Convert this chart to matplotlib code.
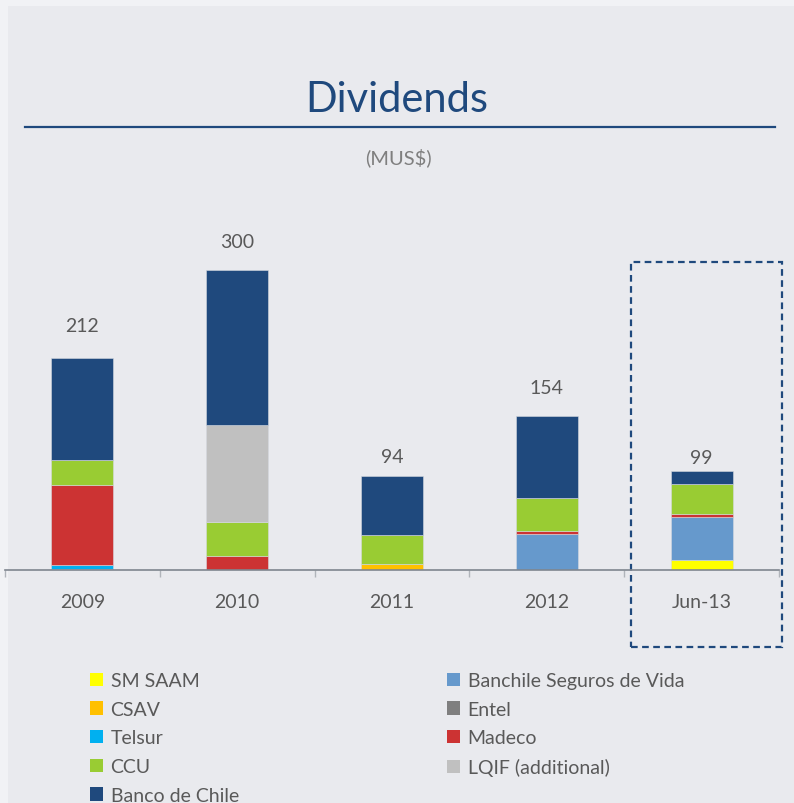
import matplotlib.pyplot as plt
from matplotlib.patches import Rectangle, Patch
from matplotlib.lines import Line2D
import numpy as np

plt.rcParams['font.family'] = ['Lato', 'DejaVu Sans']

# datos (MUS$)
years = ['2009', '2010', '2011', '2012', 'Jun-13']
totals = [212, 300, 94, 154, 99]

series = ['SM SAAM', 'Banchile Seguros de Vida', 'CSAV', 'Entel', 'Telsur',
          'Madeco', 'CCU', 'LQIF (additional)', 'Banco de Chile']
sm_saam = [0, 0, 0, 0, 10]
banchile = [0, 0, 0, 36, 43]
csav = [0, 0, 6, 0, 0]
entel = [1, 0, 0, 0, 0]
telsur = [4, 0, 0, 0, 0]
madeco = [80, 14, 0, 3, 3]
ccu = [25, 34, 29, 33, 30]
lqif = [0, 97, 0, 0, 0]
banco = [102, 155, 59, 82, 13]
values = [sm_saam, banchile, csav, entel, telsur, madeco, ccu, lqif, banco]

colors = ['#FFFF00', '#6699CC', '#FFC000', '#7F7F7F', '#00B0F0',
          '#CC3333', '#99CC33', '#C0C0C0', '#1F497D']

label_gap = [32, 28, 19, 28, 13]  # px entre tope y centro de etiqueta

fig = plt.figure(figsize=(7.94, 8.04), dpi=100, facecolor='#F1F2F5')
fig.add_artist(Rectangle((8 / 794, 0), 1, 1 - 7 / 804, transform=fig.transFigure,
                         facecolor='#E9EAEE', edgecolor='none', zorder=-10))

ax = fig.add_axes([5 / 794, 233 / 804, 774 / 794, 350 / 804])
ax.set_facecolor('none')

x = np.arange(len(years))
bottom = np.zeros(len(years))
for name, vals, col in zip(series, values, colors):
    ax.bar(x, vals, width=0.4, bottom=bottom, color=col, edgecolor='#D5D9E0',
           linewidth=0.4, label=name)
    bottom += np.array(vals)

for i, t in enumerate(totals):
    ax.annotate(str(t), (x[i], bottom[i]), xytext=(0, label_gap[i] * 0.72),
                textcoords='offset points', ha='center', va='center',
                fontsize=14, color='#595959')

ax.set_xlim(-0.5, len(years) - 0.5)
ax.set_ylim(0, 350)
ax.set_yticks([])
for s in ['top', 'left', 'right']:
    ax.spines[s].set_visible(False)
ax.spines['bottom'].set_color('#7F868F')
ax.spines['bottom'].set_linewidth(1.2)

ax.set_xticks(np.arange(-0.5, len(years)), labels=[''] * (len(years) + 1))
ax.tick_params(axis='x', which='major', length=5, color='#B0B4BA', width=1)
ax.set_xticks(x, labels=years, minor=True)
ax.tick_params(axis='x', which='minor', length=0, pad=16.5, labelsize=14,
               labelcolor='#595959')

# recuadro punteado Jun-13
ax.add_patch(Rectangle((3.545, -77), 0.975, 385, fill=False, edgecolor='#1F497D',
                       linestyle=(0, (3, 2)), linewidth=1.6, clip_on=False))

fig.text(397 / 794, 1 - 100 / 804, 'Dividends', ha='center', va='center',
         fontsize=30, color='#1F497D')
fig.add_artist(Line2D([25 / 794, 775 / 794], [1 - 128 / 804] * 2, color='#1F497D',
                      linewidth=1.6, transform=fig.transFigure))
fig.text(398 / 794, 1 - 158 / 804, '(MUS$)', ha='center', va='center',
         fontsize=14.5, color='#7F7F7F')

handles = {n: Patch(facecolor=c, edgecolor='none', label=n) for n, c in zip(series, colors)}
left_col = ['SM SAAM', 'CSAV', 'Telsur', 'CCU', 'Banco de Chile']
right_col = ['Banchile Seguros de Vida', 'Entel', 'Madeco', 'LQIF (additional)']
for col, xpos in [(left_col, 90), (right_col, 447)]:
    leg = fig.legend(handles=[handles[n] for n in col], loc='upper left',
                     bbox_to_anchor=(xpos / 794, 1 - 673 / 804), frameon=False,
                     fontsize=14, handlelength=0.68, handleheight=0.68,
                     handletextpad=0.38, labelspacing=0.6, borderpad=0,
                     borderaxespad=0, labelcolor='#595959')

fig.savefig('out.png', dpi=100, facecolor=fig.get_facecolor())
